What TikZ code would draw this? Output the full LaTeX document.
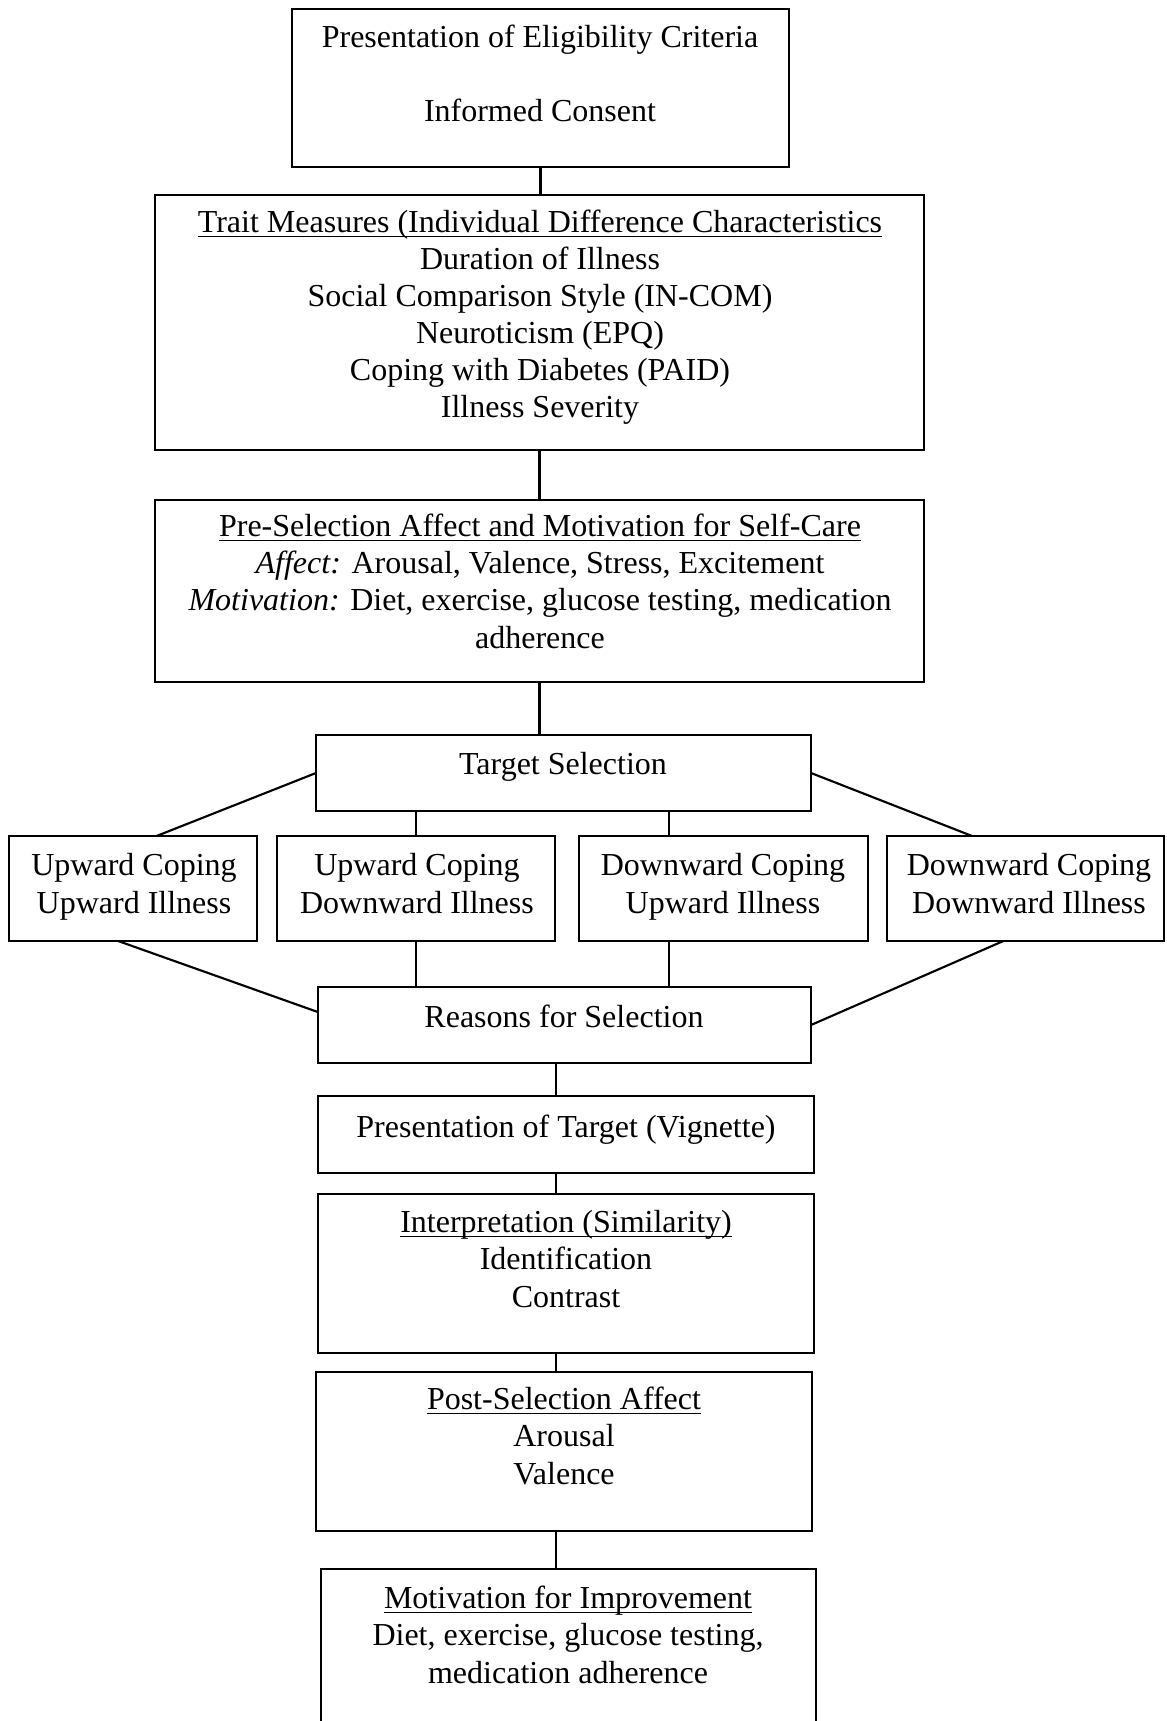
\documentclass[tikz,border=0pt]{standalone}
\usepackage{fontspec}
\setmainfont{Liberation Serif}
\usetikzlibrary{calc}
\newcommand\flowbox[5]{\node[box, minimum width={(#4-#2)*0.375pt}, minimum height={(#5-#3)*0.375pt}] (#1) at (#2,#3) {};}
\newcommand\headline[1]{\underline{\smash{#1}}}
\begin{document}
\begin{tikzpicture}[x=0.375pt,y=-0.375pt,line width=0.8pt,
  box/.style={draw, rectangle, inner sep=0pt, outer sep=0pt, anchor=north west},
  txt/.style={align=center, inner sep=0pt, anchor=base, font=\fontsize{12}{13.9}\selectfont},
  conn/.style={line width=0.8pt}]
\clip (0,0) rectangle (1166,1721);
% boxes
\flowbox{b1}{292}{9}{789}{167}
\flowbox{b2}{155}{195}{924}{450}
\flowbox{b3}{155}{500}{924}{682}
\flowbox{tgt}{316}{735}{811}{811}
\flowbox{c1}{9}{836}{257}{941}
\flowbox{c2}{277}{836}{555}{941}
\flowbox{c3}{579}{836}{868}{941}
\flowbox{c4}{887}{836}{1164}{941}
\flowbox{rsn}{318}{987}{811}{1063}
\flowbox{pt}{318}{1096}{814}{1173}
\flowbox{ip}{318}{1194}{814}{1353}
\flowbox{ps}{316}{1372}{812}{1531}
\flowbox{mt}{321}{1569}{816}{1780}
% texts (y = baseline of the last line)
\node[txt] (t1) at (540,122) {Presentation of Eligibility Criteria\\[13.9pt]Informed Consent};
\node[txt] (t2) at (540,418) {\headline{Trait Measures (Individual Difference Characteristics}\\Duration of Illness\\Social Comparison Style (IN-COM)\\Neuroticism (EPQ)\\Coping with Diabetes (PAID)\\Illness Severity};
\node[txt] (t3) at (540,648) {\headline{Pre-Selection Affect and Motivation for Self-Care}\\\textit{Affect:} Arousal, Valence, Stress, Excitement\\\textit{Motivation:} Diet, exercise, glucose testing, medication\\adherence};
\node[txt] (t4) at (563,774) {Target Selection};
\node[txt] (t5) at (134,913) {Upward Coping\\Upward Illness};
\node[txt] (t6) at (417,913) {Upward Coping\\Downward Illness};
\node[txt] (t7) at (723,913) {Downward Coping\\Upward Illness};
\node[txt] (t8) at (1029,913) {Downward Coping\\Downward Illness};
\node[txt] (t9) at (564,1027) {Reasons for Selection};
\node[txt] (t10) at (566,1137) {Presentation of Target (Vignette)};
\node[txt] (t11) at (566,1307) {\headline{Interpretation (Similarity)}\\Identification\\Contrast};
\node[txt] (t12) at (564,1484) {\headline{Post-Selection Affect}\\Arousal\\Valence};
\node[txt] (t13) at (568,1683) {\headline{Motivation for Improvement}\\Diet, exercise, glucose testing,\\medication adherence};
% helper coordinates
\coordinate (v3) at (669,0);
\coordinate (vm) at (556,0);
% connectors
\draw[conn] (b1.south) -- (b1.south |- b2.north);
\draw[conn] (b2.south) -- (b2.south |- b3.north);
\draw[conn] (b3.south) -- (b3.south |- tgt.north);
\draw[conn] (tgt.west) -- ($(c1.north west)!0.595!(c1.north east)$);
\draw[conn] (tgt.south -| c2.north) -- (c2.north);
\draw[conn] (tgt.south -| v3) -- (c3.north -| v3);
\draw[conn] (tgt.east) -- ($(c4.north west)!0.307!(c4.north east)$);
\draw[conn] ($(c1.south west)!0.440!(c1.south east)$) -- ($(rsn.north west)!0.33!(rsn.south west)$);
\draw[conn] (c2.south) -- (c2.south |- rsn.north);
\draw[conn] (c3.south -| v3) -- (rsn.north -| v3);
\draw[conn] ($(c4.south west)!0.42!(c4.south east)$) -- (rsn.east);
\draw[conn] (rsn.south -| vm) -- (pt.north -| vm);
\draw[conn] (pt.south -| vm) -- (ip.north -| vm);
\draw[conn] (ip.south -| vm) -- (ps.north -| vm);
\draw[conn] (ps.south -| vm) -- (mt.north -| vm);
\end{tikzpicture}
\end{document}
